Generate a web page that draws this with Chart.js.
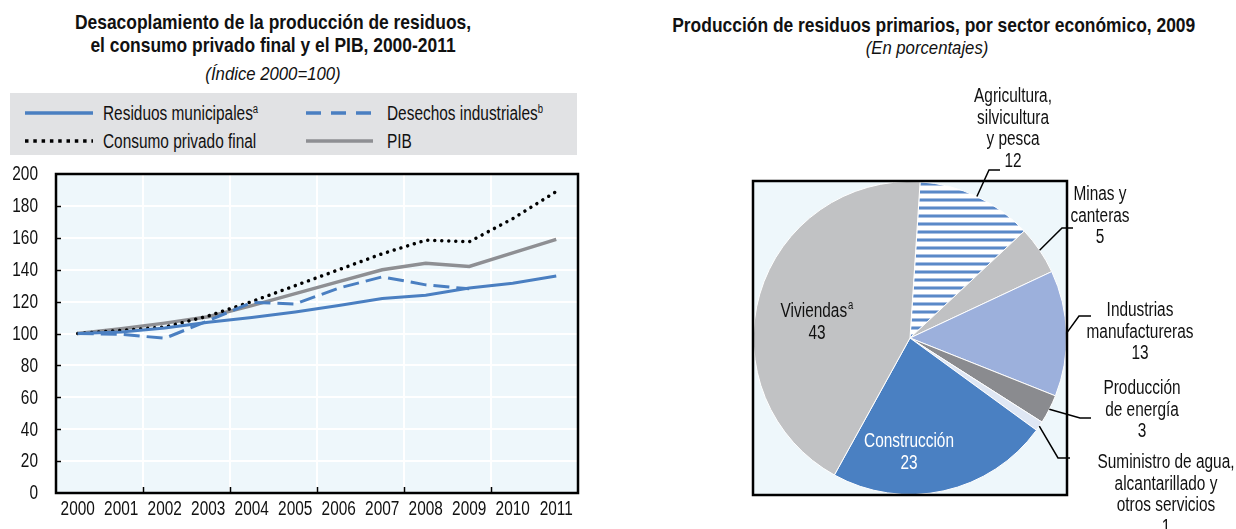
<!DOCTYPE html>
<html>
<head>
<meta charset="utf-8">
<script src="https://cdn.jsdelivr.net/npm/chart.js@4.4.1/dist/chart.umd.min.js"></script>
<style>
  body { margin: 0; width: 1236px; height: 529px; position: relative; overflow: hidden; background: #fff;
         font-family: 'Liberation Sans', Arial, sans-serif; color: #111; }
  .t { position: absolute; white-space: nowrap; text-align: center; font-size: 19px; line-height: 23px; }
  .b { font-weight: bold; font-size: 21px; transform: scaleX(0.83); }
  .i { font-style: italic; transform: scaleX(0.88); }
  .legend { position: absolute; left: 10px; top: 93px; width: 567px; height: 62px; background: #e1e2e4; }
  .item { position: absolute; font-size: 19.5px; line-height: 22px; white-space: nowrap;
          transform: scaleX(0.79); transform-origin: left center; }
  sup { font-size: 12px; vertical-align: 7px; line-height: 0; }
  svg { position: absolute; overflow: visible; }
</style>
</head>
<body>

<div class="t b" style="left:0;width:546px;top:10px;">Desacoplamiento de la producción de residuos,</div>
<div class="t b" style="left:0;width:546px;top:33px;">el consumo privado final y el PIB, 2000-2011</div>
<div class="t i" style="left:0;width:546px;top:62px;">(Índice 2000=100)</div>

<div class="legend">
  <svg width="567" height="62">
    <line x1="15" y1="20" x2="83" y2="20" stroke="#4a7fc1" stroke-width="3.5"/>
    <line x1="296" y1="20" x2="363" y2="20" stroke="#4a7fc1" stroke-width="3.5" stroke-dasharray="15 10"/>
    <line x1="15" y1="48" x2="83" y2="48" stroke="#000" stroke-width="3.5" stroke-dasharray="3.5 4.8"/>
    <line x1="296" y1="48" x2="363" y2="48" stroke="#8e8f93" stroke-width="3.5"/>
  </svg>
  <div class="item" style="left:93px;top:9px;">Residuos municipales<sup>a</sup></div>
  <div class="item" style="left:377px;top:9px;">Desechos industriales<sup>b</sup></div>
  <div class="item" style="left:93px;top:37px;">Consumo privado final</div>
  <div class="item" style="left:377px;top:37px;">PIB</div>
</div>

<div class="t b" style="left:620px;width:614px;top:13px;">Producción de residuos primarios, por sector económico, 2009</div>
<div class="t i" style="left:620px;width:614px;top:36px;">(En porcentajes)</div>

<canvas id="lineChart" width="600" height="369" style="position:absolute;left:0;top:160px;"></canvas>
<canvas id="pieChart" width="616" height="469" style="position:absolute;left:620px;top:60px;"></canvas>

<script>
const years = ['2000', '2001', '2002', '2003', '2004', '2005', '2006', '2007', '2008', '2009', '2010', '2011'];
const residuosMunicipales = [100, 101, 103.5, 107, 110, 113.5, 117.5, 122, 124, 128.5, 131.5, 136];
const desechosIndustriales = [100, 99.5, 97, 108, 119.5, 118.5, 128.5, 135.5, 130.5, 128, null, null];
const consumoPrivado = [100, 102, 104, 111, 120, 130, 140, 150, 158.5, 157.5, 172, 189];
const pib = [100, 103, 106.5, 110.5, 117.5, 125, 132.5, 140, 144, 142, 150.5, 159];

const sectores = ['Agricultura, silvicultura y pesca', 'Minas y canteras', 'Industrias manufactureras',
  'Producción de energía', 'Suministro de agua, alcantarillado y otros servicios', 'Construcción', 'Viviendas'];
const porcentajes = [12, 5, 13, 3, 1, 23, 43];

const FONT = "19.5px 'Liberation Sans', Arial, sans-serif";
const SUP_FONT = "12px 'Liberation Sans', Arial, sans-serif";
const SQUEEZE = 0.79; // the source uses a condensed face
Chart.defaults.font.family = "'Liberation Sans', Arial, sans-serif";
Chart.defaults.color = '#111';

const BLUE = '#4a7fc1';
const PLOT_BG = '#eef7fb';

// condensed text: draw with a horizontal squeeze
function squeezed(ctx, str, x, y, align) {
  ctx.save();
  ctx.translate(x, y);
  ctx.scale(SQUEEZE, 1);
  ctx.textAlign = align;
  ctx.fillText(str, 0, 0);
  ctx.restore();
}

// background, tick labels, inner tick marks and black frame of the line chart
const frame = {
  id: 'frame',
  beforeDraw(chart) {
    const { ctx, chartArea: a } = chart;
    ctx.save();
    ctx.fillStyle = PLOT_BG;
    ctx.fillRect(a.left, a.top, a.right - a.left, a.bottom - a.top);
    ctx.restore();
  },
  afterDraw(chart) {
    const { ctx, chartArea: a, scales } = chart;
    ctx.save();
    ctx.font = FONT;
    ctx.fillStyle = '#111';
    ctx.textBaseline = 'middle';
    scales.x.ticks.forEach((t, i) => squeezed(ctx, years[i], scales.x.getPixelForTick(i), a.bottom + 17, 'center'));
    scales.y.ticks.forEach((t, i) => squeezed(ctx, String(t.value), 38, scales.y.getPixelForTick(i) + 1, 'right'));

    ctx.strokeStyle = '#000';
    ctx.lineWidth = 1.5;
    const half = (scales.x.getPixelForValue(1) - scales.x.getPixelForValue(0)) / 2;
    for (let i = 2; i < years.length; i += 2) {
      const x = Math.round(scales.x.getPixelForValue(i) - half) + 0.5;
      ctx.beginPath(); ctx.moveTo(x, a.bottom); ctx.lineTo(x, a.bottom - 6); ctx.stroke();
    }
    for (let v = 20; v < 200; v += 20) {
      const y = Math.round(scales.y.getPixelForValue(v)) + 0.5;
      ctx.beginPath(); ctx.moveTo(a.left, y); ctx.lineTo(a.left + 5, y); ctx.stroke();
    }
    ctx.lineWidth = 2.5;
    ctx.strokeRect(a.left, a.top, a.right - a.left, a.bottom - a.top);
    ctx.restore();
  }
};

new Chart(document.getElementById('lineChart'), {
  type: 'line',
  data: {
    labels: years,
    datasets: [
      { label: 'Residuos municipales', data: residuosMunicipales, borderColor: BLUE, borderWidth: 3 },
      { label: 'Desechos industriales', data: desechosIndustriales, borderColor: BLUE, borderWidth: 3, borderDash: [16, 7] },
      { label: 'Consumo privado final', data: consumoPrivado, borderColor: '#000', borderWidth: 3.5,
        borderDash: [0.01, 7], borderCapStyle: 'round' },
      { label: 'PIB', data: pib, borderColor: '#8e8f93', borderWidth: 3.5 }
    ]
  },
  options: {
    responsive: false,
    animation: false,
    devicePixelRatio: 1,
    layout: { padding: { top: 14, right: 22, left: 0, bottom: 0 } },
    elements: { point: { radius: 0 }, line: { tension: 0 } },
    plugins: { legend: { display: false }, tooltip: { enabled: false } },
    scales: {
      x: {
        offset: true,
        grid: {
          offset: true,
          drawTicks: false,
          lineWidth: 2,
          color: (c) => (c.index > 0 && c.index % 2 === 0 && c.index < years.length) ? '#fff' : 'rgba(0,0,0,0)'
        },
        border: { display: false },
        ticks: { display: false, autoSkip: false },
        afterFit: (s) => { s.height = 36; }
      },
      y: {
        min: 0, max: 200,
        grid: { drawTicks: false, lineWidth: 2, color: '#fff' },
        border: { display: false },
        ticks: { display: false, stepSize: 20 },
        afterFit: (s) => { s.width = 56; }
      }
    }
  },
  plugins: [frame]
});

// pie

function stripes(ctx) {
  const c = document.createElement('canvas');
  c.width = 8; c.height = 8;
  const g = c.getContext('2d');
  g.fillStyle = '#fff'; g.fillRect(0, 0, 8, 8);
  g.fillStyle = '#a9c0e3'; g.fillRect(0, 2, 8, 1);
  g.fillStyle = '#5a89c8'; g.fillRect(0, 3, 8, 2);
  g.fillStyle = '#a9c0e3'; g.fillRect(0, 5, 8, 1);
  return ctx.createPattern(c, 'repeat');
}

const pieCanvas = document.getElementById('pieChart');
const pieColors = [stripes(pieCanvas.getContext('2d')), '#c0c1c3', '#9cb0dc', '#8a8b8f', '#dfe7f4', '#4a80c2', '#c1c2c4'];

// label layout (canvas coords): elbow, end of leader, text centre x, first line y
const outside = [
  { i: 0, elbow: [369, 110], end: 380, tx: 393, ty: 37, lines: ['Agricultura,', 'silvicultura', 'y pesca'] },
  { i: 1, elbow: [442, 168], end: 453, tx: 480, ty: 135, lines: ['Minas y', 'canteras'] },
  { i: 2, elbow: [459, 256], end: 471, tx: 520, ty: 251, lines: ['Industrias', 'manufactureras'] },
  { i: 3, elbow: [460, 358], end: 471, tx: 522, ty: 329, lines: ['Producción', 'de energía'] },
  { i: 4, elbow: [438, 398], end: 450, tx: 546, ty: 403, lines: ['Suministro de agua,', 'alcantarillado y', 'otros servicios'] }
];
const inside = [
  { i: 6, x: 197, y: 252, name: 'Viviendas', sup: 'a', color: '#111' },
  { i: 5, x: 289, y: 382, name: 'Construcción', sup: '', color: '#fff' }
];
const LH = 21.5;

const pieLabels = {
  id: 'pieLabels',
  beforeDraw(chart) {
    const { ctx, chartArea: a } = chart;
    ctx.save();
    ctx.fillStyle = PLOT_BG;
    ctx.fillRect(a.left, a.top, a.right - a.left, a.bottom - a.top);
    ctx.restore();
  },
  afterDraw(chart) {
    const { ctx, chartArea: a } = chart;
    const arcs = chart.getDatasetMeta(0).data;
    ctx.save();
    ctx.strokeStyle = '#000';
    ctx.lineWidth = 2.5;
    ctx.strokeRect(a.left, a.top, a.right - a.left, a.bottom - a.top);

    ctx.font = FONT;
    ctx.textBaseline = 'middle';
    ctx.lineWidth = 1.5;
    outside.forEach((o) => {
      const arc = arcs[o.i];
      const mid = (arc.startAngle + arc.endAngle) / 2;
      const sx = arc.x + Math.cos(mid) * arc.outerRadius;
      const sy = arc.y + Math.sin(mid) * arc.outerRadius;
      ctx.beginPath();
      ctx.moveTo(sx, sy);
      ctx.lineTo(o.elbow[0], o.elbow[1]);
      ctx.lineTo(o.end, o.elbow[1]);
      ctx.stroke();
      ctx.fillStyle = '#111';
      o.lines.concat(String(porcentajes[o.i])).forEach((l, k) => squeezed(ctx, l, o.tx, o.ty + k * LH, 'center'));
    });

    inside.forEach((o) => {
      ctx.fillStyle = o.color;
      ctx.font = FONT;
      const w = ctx.measureText(o.name).width * SQUEEZE;
      ctx.font = SUP_FONT;
      const sw = o.sup ? ctx.measureText(o.sup).width * SQUEEZE + 1 : 0;
      const x0 = o.x - (w + sw) / 2;
      if (o.sup) squeezed(ctx, o.sup, x0 + w + 1, o.y - 6, 'left');
      ctx.font = FONT;
      squeezed(ctx, o.name, x0, o.y, 'left');
      squeezed(ctx, String(porcentajes[o.i]), o.x, o.y + LH, 'center');
    });
    ctx.restore();
  }
};

new Chart(pieCanvas, {
  type: 'pie',
  data: {
    labels: sectores,
    datasets: [{ data: porcentajes, backgroundColor: pieColors, borderColor: '#fff', borderWidth: 1 }]
  },
  options: {
    responsive: false,
    animation: false,
    devicePixelRatio: 1,
    rotation: 3.7,
    layout: { padding: { left: 133, top: 121, right: 169, bottom: 34 } },
    plugins: { legend: { display: false }, tooltip: { enabled: false } }
  },
  plugins: [pieLabels]
});
</script>
</body>
</html>
